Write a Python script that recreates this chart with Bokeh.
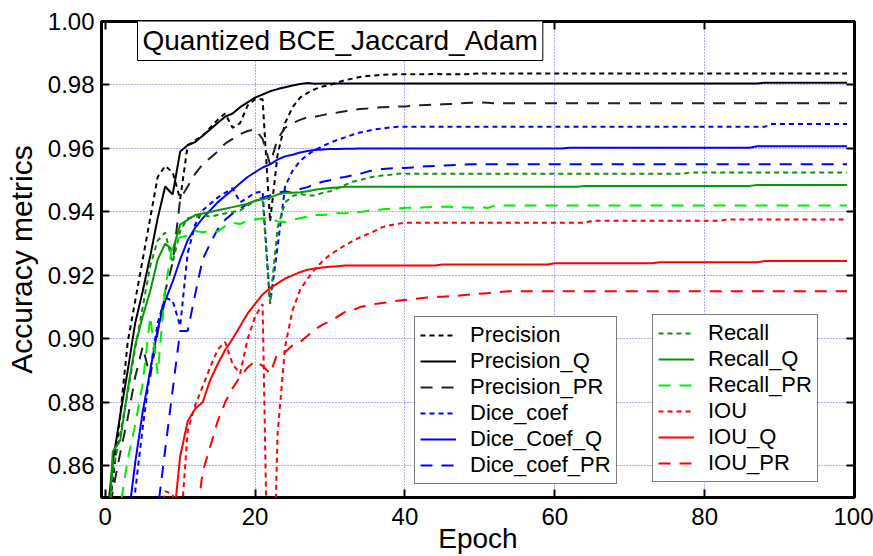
from bokeh.plotting import figure
from bokeh.models import (Range1d, FixedTicker, Legend, LegendItem, Label,
                          LinearAxis, NumeralTickFormatter)
from bokeh.embed import file_html
from bokeh.resources import INLINE

nan = float("nan")

epochs = list(range(100))

x_ticks = [0, 20, 40, 60, 80, 100]
y_ticks = [0.86, 0.88, 0.90, 0.92, 0.94, 0.96, 0.98, 1.00]

title_text = "Quantized BCE_Jaccard_Adam"
x_label = "Epoch"
y_label = "Accuracy metrics"

precision = [
    0.838, 0.855, 0.876, 0.899, 0.912, 0.925, 0.938, 0.951, 0.9545, 0.9525,
    0.944, 0.961, 0.9625, 0.964, 0.9665, 0.969, 0.971, 0.9665, 0.968, 0.9735,
    0.9755, 0.9755, 0.937, 0.958, 0.968, 0.973, 0.976, 0.9775, 0.9787, 0.9795,
    0.980, 0.9808, 0.9815, 0.982, 0.9825, 0.9828, 0.983, 0.9832, 0.9833, 0.9834,
    0.9834, 0.9834, 0.9834, 0.9834, 0.9835, 0.9834, 0.9834, 0.9834, 0.9834, 0.9835,
    0.9836, 0.9836, 0.9836, 0.9836, 0.9836, 0.9836, 0.9836, 0.9836, 0.9836, 0.9836,
    0.9836, 0.9836, 0.9836, 0.9836, 0.9836, 0.9836, 0.9836, 0.9836, 0.9836, 0.9836,
    0.9836, 0.9836, 0.9836, 0.9836, 0.9836, 0.9836, 0.9836, 0.9836, 0.9836, 0.9836,
    0.9836, 0.9836, 0.9836, 0.9836, 0.9836, 0.9836, 0.9836, 0.9836, 0.9836, 0.9836,
    0.9836, 0.9836, 0.9836, 0.9836, 0.9836, 0.9836, 0.9836, 0.9836, 0.9836, 0.9836,
]

precision_q = [
    0.838, 0.861, 0.876, 0.890, 0.905, 0.915, 0.926, 0.938, 0.948, 0.9455,
    0.959, 0.961, 0.962, 0.964, 0.966, 0.968, 0.970, 0.971, 0.973, 0.9745,
    0.976, 0.977, 0.978, 0.9787, 0.9793, 0.9798, 0.9803, 0.9806, 0.9804, 0.9805,
    0.9805, 0.9805, 0.9805, 0.9805, 0.9805, 0.9805, 0.9805, 0.9805, 0.9805, 0.9805,
    0.9805, 0.9805, 0.9805, 0.9805, 0.9805, 0.9805, 0.9805, 0.9805, 0.9805, 0.9805,
    0.9805, 0.9805, 0.9805, 0.9805, 0.9805, 0.9805, 0.9805, 0.9805, 0.9805, 0.9805,
    0.9805, 0.9805, 0.9805, 0.9805, 0.9805, 0.9805, 0.9805, 0.9805, 0.9805, 0.9805,
    0.9805, 0.9805, 0.9805, 0.9805, 0.9805, 0.9805, 0.9805, 0.9805, 0.9805, 0.9805,
    0.9805, 0.9805, 0.9805, 0.9805, 0.9805, 0.9805, 0.9805, 0.9805, 0.9807, 0.9807,
    0.9807, 0.9807, 0.9807, 0.9807, 0.9807, 0.9807, 0.9807, 0.9807, 0.9807, 0.9807,
]

precision_pr = [
    0.835, 0.852, 0.864, 0.875, 0.888, 0.8975, 0.888, 0.902, 0.915, 0.924,
    0.944, 0.948, 0.952, 0.955, 0.957, 0.959, 0.9615, 0.963, 0.9645, 0.9655,
    0.966, 0.963, 0.955, 0.963, 0.9665, 0.968, 0.969, 0.9698, 0.970, 0.9705,
    0.971, 0.9713, 0.9717, 0.9722, 0.9724, 0.9726, 0.9729, 0.973, 0.9731, 0.9732,
    0.9732, 0.9734, 0.9736, 0.9737, 0.9738, 0.9739, 0.974, 0.9741, 0.9743, 0.9744,
    0.9745, 0.9744, 0.9742, 0.9742, 0.9742, 0.9742, 0.9742, 0.9742, 0.9742, 0.9742,
    0.9742, 0.9742, 0.9742, 0.9742, 0.9742, 0.9742, 0.9742, 0.9742, 0.9742, 0.9742,
    0.9742, 0.9742, 0.9742, 0.9742, 0.9742, 0.9742, 0.9742, 0.9742, 0.9742, 0.9742,
    0.9742, 0.9742, 0.9742, 0.9742, 0.9742, 0.9742, 0.9742, 0.9742, 0.9742, 0.9742,
    0.9742, 0.9742, 0.9742, 0.9742, 0.9742, 0.9742, 0.9742, 0.9742, 0.9742, 0.9742,
]

dice_coef = [
    nan, nan, 0.815, 0.835, 0.852, 0.872, 0.890, 0.905, 0.913, 0.912,
    0.904, 0.927, 0.936, 0.9405, 0.9425, 0.9445, 0.946, 0.9475, 0.943, 0.9445,
    0.946, 0.9465, 0.911, 0.929, 0.948, 0.953, 0.956, 0.958, 0.9595, 0.9607,
    0.9618, 0.9627, 0.9635, 0.9643, 0.965, 0.9655, 0.966, 0.9663, 0.9666, 0.9668,
    0.9668, 0.9668, 0.9668, 0.9668, 0.9668, 0.9668, 0.9668, 0.9668, 0.9668, 0.9668,
    0.9668, 0.9668, 0.9668, 0.9668, 0.9668, 0.9668, 0.9668, 0.9668, 0.9668, 0.9668,
    0.9668, 0.9668, 0.9668, 0.9668, 0.9668, 0.9668, 0.9668, 0.9668, 0.9668, 0.9668,
    0.9668, 0.9668, 0.9668, 0.9668, 0.9668, 0.9668, 0.9668, 0.9668, 0.9668, 0.9668,
    0.9668, 0.9668, 0.9668, 0.9668, 0.9668, 0.9668, 0.9668, 0.9668, 0.9668, 0.9677,
    0.9677, 0.9677, 0.9677, 0.9677, 0.9677, 0.9677, 0.9677, 0.9677, 0.9677, 0.9677,
]

dice_coef_q = [
    nan, nan, 0.822, 0.842, 0.861, 0.877, 0.890, 0.903, 0.912, 0.918,
    0.925, 0.931, 0.935, 0.938, 0.9405, 0.943, 0.945, 0.947, 0.949, 0.951,
    0.9525, 0.954, 0.955, 0.9565, 0.9575, 0.958, 0.9587, 0.9592, 0.9595, 0.9597,
    0.9598, 0.9598, 0.9599, 0.9599, 0.9600, 0.9600, 0.9600, 0.9600, 0.9600, 0.9600,
    0.9600, 0.9600, 0.9600, 0.9600, 0.9600, 0.9600, 0.9600, 0.9600, 0.9600, 0.9600,
    0.9600, 0.9600, 0.9600, 0.9600, 0.9600, 0.9600, 0.9600, 0.9600, 0.9600, 0.9600,
    0.9600, 0.9600, 0.9602, 0.9602, 0.9602, 0.9602, 0.9602, 0.9602, 0.9602, 0.9602,
    0.9602, 0.9602, 0.9602, 0.9602, 0.9602, 0.9602, 0.9602, 0.9602, 0.9602, 0.9602,
    0.9602, 0.9602, 0.9602, 0.9602, 0.9602, 0.9602, 0.9602, 0.9607, 0.9607, 0.9607,
    0.9607, 0.9607, 0.9607, 0.9607, 0.9607, 0.9607, 0.9607, 0.9607, 0.9607, 0.9607,
]

dice_coef_pr = [
    nan, nan, nan, nan, nan, nan, 0.830, 0.846, 0.865, 0.884,
    0.9025, 0.9025, 0.914, 0.925, 0.930, 0.9345, 0.9375, 0.9395, 0.941, 0.9425,
    0.9435, 0.9445, 0.9452, 0.946, 0.9465, 0.946, 0.9472, 0.9478, 0.9488, 0.9495,
    0.950, 0.9507, 0.951, 0.9515, 0.952, 0.9527, 0.9532, 0.9535, 0.9537, 0.9538,
    0.9538, 0.954, 0.9542, 0.9544, 0.9545, 0.9546, 0.9547, 0.9548, 0.9549, 0.955,
    0.955, 0.955, 0.955, 0.955, 0.955, 0.955, 0.955, 0.955, 0.955, 0.955,
    0.955, 0.955, 0.955, 0.955, 0.955, 0.955, 0.955, 0.955, 0.955, 0.955,
    0.955, 0.955, 0.955, 0.955, 0.955, 0.955, 0.955, 0.955, 0.955, 0.955,
    0.955, 0.955, 0.955, 0.955, 0.955, 0.955, 0.955, 0.955, 0.955, 0.955,
    0.955, 0.955, 0.955, 0.955, 0.955, 0.955, 0.955, 0.955, 0.955, 0.955,
]

recall = [
    0.830, 0.858, 0.870, 0.883, 0.897, 0.910, 0.923, 0.931, 0.9335, 0.924,
    0.934, 0.938, 0.9385, 0.939, 0.9385, 0.939, 0.9395, 0.940, 0.9405, 0.942,
    0.9435, 0.944, 0.911, 0.935, 0.943, 0.945, 0.9457, 0.9452, 0.9452, 0.946,
    0.9465, 0.9474, 0.9485, 0.9495, 0.950, 0.9507, 0.9512, 0.9515, 0.9517, 0.952,
    0.952, 0.952, 0.952, 0.952, 0.952, 0.952, 0.952, 0.952, 0.952, 0.952,
    0.952, 0.952, 0.952, 0.952, 0.952, 0.952, 0.952, 0.952, 0.952, 0.952,
    0.952, 0.952, 0.952, 0.952, 0.952, 0.952, 0.952, 0.952, 0.952, 0.952,
    0.952, 0.952, 0.952, 0.952, 0.952, 0.952, 0.952, 0.952, 0.9524, 0.9524,
    0.9524, 0.9524, 0.9524, 0.9524, 0.9524, 0.9524, 0.9524, 0.9524, 0.9524, 0.9524,
    0.9524, 0.9524, 0.9524, 0.9524, 0.9524, 0.9524, 0.9524, 0.9524, 0.9524, 0.9524,
]

recall_q = [
    0.820, 0.8645, 0.868, 0.884, 0.898, 0.907, 0.915, 0.925, 0.930, 0.928,
    0.936, 0.9375, 0.939, 0.9395, 0.940, 0.9405, 0.941, 0.9415, 0.942, 0.9425,
    0.9435, 0.944, 0.9445, 0.9455, 0.946, 0.946, 0.9462, 0.9465, 0.947, 0.9473,
    0.9475, 0.9477, 0.9479, 0.9479, 0.9479, 0.9479, 0.9479, 0.9479, 0.9479, 0.9479,
    0.9479, 0.9479, 0.9479, 0.9479, 0.9479, 0.9479, 0.9479, 0.9479, 0.9479, 0.9479,
    0.9479, 0.9479, 0.9479, 0.9479, 0.9479, 0.9479, 0.9479, 0.9479, 0.9479, 0.9479,
    0.9479, 0.9479, 0.9479, 0.9479, 0.9482, 0.9482, 0.9482, 0.9482, 0.9482, 0.9482,
    0.9482, 0.9482, 0.9482, 0.9482, 0.9482, 0.9482, 0.9482, 0.9482, 0.9482, 0.9482,
    0.9482, 0.9482, 0.9482, 0.9482, 0.9482, 0.9482, 0.9482, 0.9485, 0.9485, 0.9485,
    0.9485, 0.9485, 0.9485, 0.9485, 0.9485, 0.9485, 0.9485, 0.9485, 0.9485, 0.9485,
]

recall_pr = [
    nan, 0.830, 0.847, 0.862, 0.873, 0.886, 0.907, 0.889, 0.916, 0.930,
    0.932, 0.9325, 0.934, 0.9336, 0.934, 0.9338, 0.9355, 0.9366, 0.9362, 0.9372,
    0.9376, 0.938, 0.938, 0.937, 0.9368, 0.9375, 0.938, 0.9385, 0.939, 0.939,
    0.9393, 0.9396, 0.9396, 0.9398, 0.940, 0.9403, 0.9405, 0.9408, 0.941, 0.941,
    0.9413, 0.9413, 0.9414, 0.9415, 0.9416, 0.9416, 0.9416, 0.9415, 0.9414, 0.9413,
    0.9416, 0.9412, 0.942, 0.942, 0.942, 0.942, 0.942, 0.942, 0.942, 0.942,
    0.942, 0.942, 0.942, 0.942, 0.942, 0.942, 0.942, 0.942, 0.942, 0.942,
    0.942, 0.942, 0.942, 0.942, 0.942, 0.942, 0.942, 0.942, 0.942, 0.942,
    0.942, 0.942, 0.942, 0.942, 0.942, 0.942, 0.942, 0.942, 0.942, 0.942,
    0.942, 0.942, 0.942, 0.942, 0.942, 0.942, 0.942, 0.942, 0.942, 0.942,
]

iou = [
    nan, nan, nan, nan, nan, nan, nan, 0.835, 0.852, 0.851,
    0.838, 0.871, 0.879, 0.885, 0.891, 0.8966, 0.899, 0.892, 0.889, 0.900,
    0.907, 0.911, 0.780, 0.870, 0.8975, 0.909, 0.9154, 0.919, 0.922, 0.9245,
    0.9265, 0.928, 0.9295, 0.9308, 0.932, 0.933, 0.934, 0.9352, 0.9358, 0.9362,
    0.9366, 0.9366, 0.9366, 0.9366, 0.9366, 0.9366, 0.9366, 0.9366, 0.9366, 0.9366,
    0.9366, 0.9366, 0.9366, 0.9366, 0.9366, 0.9366, 0.9366, 0.9366, 0.9366, 0.9366,
    0.9366, 0.9366, 0.9366, 0.9366, 0.9366, 0.9372, 0.9372, 0.9372, 0.9372, 0.9372,
    0.9372, 0.9372, 0.9372, 0.9372, 0.9372, 0.9372, 0.9372, 0.9372, 0.9372, 0.9372,
    0.9372, 0.9372, 0.9372, 0.9376, 0.9376, 0.9376, 0.9376, 0.9376, 0.9376, 0.9376,
    0.9376, 0.9376, 0.9376, 0.9376, 0.9376, 0.9376, 0.9376, 0.9376, 0.9376, 0.9376,
]

iou_q = [
    nan, nan, nan, nan, nan, nan, nan, nan, nan, 0.840,
    0.863, 0.874, 0.878, 0.880, 0.887, 0.892, 0.8965, 0.900, 0.904, 0.908,
    0.911, 0.914, 0.916, 0.9175, 0.919, 0.920, 0.921, 0.9218, 0.9222, 0.9225,
    0.9227, 0.9229, 0.9231, 0.9231, 0.9231, 0.9231, 0.9231, 0.9231, 0.9231, 0.9231,
    0.9231, 0.9231, 0.9231, 0.9231, 0.9231, 0.9234, 0.9234, 0.9234, 0.9234, 0.9234,
    0.9234, 0.9234, 0.9234, 0.9234, 0.9234, 0.9234, 0.9234, 0.9234, 0.9234, 0.9234,
    0.9238, 0.9238, 0.9238, 0.9238, 0.9238, 0.9238, 0.9238, 0.9238, 0.9238, 0.9238,
    0.9238, 0.9238, 0.9238, 0.9238, 0.9241, 0.9241, 0.9241, 0.9241, 0.9241, 0.9241,
    0.9241, 0.9241, 0.9241, 0.9241, 0.9241, 0.9241, 0.9241, 0.9241, 0.9245, 0.9245,
    0.9245, 0.9245, 0.9245, 0.9245, 0.9245, 0.9245, 0.9245, 0.9245, 0.9245, 0.9245,
]

iou_pr = [
    nan, nan, nan, nan, nan, nan, nan, nan, nan, nan,
    nan, 0.820, 0.840, 0.858, 0.866, 0.874, 0.880, 0.8845, 0.888, 0.891,
    0.893, 0.8915, 0.889, 0.8955, 0.8958, 0.898, 0.899, 0.901, 0.903, 0.9045,
    0.9055, 0.907, 0.9085, 0.909, 0.910, 0.9105, 0.911, 0.9113, 0.9116, 0.912,
    0.9122, 0.9125, 0.9128, 0.913, 0.9132, 0.9133, 0.9134, 0.9136, 0.9138, 0.914,
    0.9142, 0.9144, 0.9146, 0.9148, 0.915, 0.915, 0.915, 0.915, 0.915, 0.915,
    0.915, 0.915, 0.915, 0.915, 0.915, 0.915, 0.915, 0.915, 0.915, 0.915,
    0.915, 0.915, 0.915, 0.915, 0.915, 0.915, 0.915, 0.915, 0.915, 0.915,
    0.915, 0.915, 0.915, 0.915, 0.915, 0.915, 0.915, 0.915, 0.915, 0.915,
    0.915, 0.915, 0.915, 0.915, 0.915, 0.915, 0.915, 0.915, 0.915, 0.915,
]

FONT = "Liberation Sans"
DOT = "5 4"
DASH = "12 9"
GREEN = "#0a960a"
LIME = "#00ee00"

p = figure(width=873, height=556, output_backend="svg", toolbar_location=None,
           x_range=Range1d(-0.5, 100), y_range=Range1d(0.85, 1.0),
           min_border_left=101, min_border_right=19, min_border_top=21,
           min_border_bottom=58)
p.background_fill_color = "white"
p.border_fill_color = "white"
p.outline_line_color = "black"
p.outline_line_width = 3

for ax in (p.xaxis[0], p.yaxis[0]):
    ax.axis_line_color = None
    ax.major_tick_in = 8
    ax.major_tick_out = 0
    ax.major_tick_line_width = 2
    ax.minor_tick_line_color = None
    ax.major_label_text_font = FONT
    ax.major_label_text_font_size = "24px"
    ax.major_label_text_color = "black"
    ax.axis_label_text_font = FONT
    ax.axis_label_text_font_style = "normal"
    ax.axis_label_text_color = "black"

p.xaxis[0].ticker = FixedTicker(ticks=x_ticks)
p.yaxis[0].ticker = FixedTicker(ticks=y_ticks)
p.yaxis[0].formatter = NumeralTickFormatter(format="0.00")
p.xaxis[0].axis_label = x_label
p.xaxis[0].axis_label_text_font_size = "28px"
p.xaxis[0].major_label_standoff = 10
p.xaxis[0].axis_label_standoff = -5
p.yaxis[0].axis_label = y_label
p.yaxis[0].axis_label_text_font_size = "30px"
p.yaxis[0].major_label_standoff = 7
p.yaxis[0].axis_label_standoff = 7

for side, ticks in (("above", x_ticks), ("right", y_ticks)):
    ax = LinearAxis(ticker=FixedTicker(ticks=ticks), axis_line_color=None,
                    major_tick_in=8, major_tick_out=0, major_tick_line_width=2,
                    minor_tick_line_color=None,
                    major_label_text_font_size="1px",
                    major_label_text_color=None, major_label_standoff=0)
    p.add_layout(ax, side)

p.xgrid.ticker = FixedTicker(ticks=[20, 40, 60, 80])
p.ygrid.ticker = FixedTicker(ticks=[0.86, 0.88, 0.90, 0.92, 0.94, 0.96, 0.98])
for g in (p.xgrid[0], p.ygrid[0]):
    g.grid_line_color = "#3a3aff"
    g.grid_line_alpha = 0.85
    g.grid_line_dash = "1 2"
    g.grid_line_width = 1

series = [
    ("Precision", precision, "black", DOT),
    ("Precision_Q", precision_q, "black", "solid"),
    ("Precision_PR", precision_pr, "#222222", DASH),
    ("Dice_coef", dice_coef, "#0000ff", DOT),
    ("Dice_Coef_Q", dice_coef_q, "#0000ff", "solid"),
    ("Dice_coef_PR", dice_coef_pr, "#0000ff", DASH),
    ("Recall", recall, GREEN, DOT),
    ("Recall_Q", recall_q, GREEN, "solid"),
    ("Recall_PR", recall_pr, LIME, DASH),
    ("IOU", iou, "#ff0000", DOT),
    ("IOU_Q", iou_q, "#ff0000", "solid"),
    ("IOU_PR", iou_pr, "#ff0000", DASH),
]

renderers = []
for name, vals, col, dash in series:
    r = p.line(epochs, vals, line_color=col, line_width=2, line_dash=dash)
    renderers.append((name, r))


def make_legend(items, loc):
    lg = Legend(items=[LegendItem(label=n, renderers=[r]) for n, r in items],
                location=loc)
    lg.label_text_font = FONT
    lg.label_text_font_size = "22px"
    lg.label_text_color = "black"
    lg.glyph_width = 36
    lg.glyph_height = 20
    lg.label_height = 20
    lg.label_standoff = 14
    lg.spacing = 0
    lg.padding = 5
    lg.margin = 0
    lg.border_line_color = "black"
    lg.border_line_width = 1
    lg.background_fill_color = "white"
    lg.background_fill_alpha = 1.0
    return lg


p.add_layout(make_legend(renderers[:6], (313, 13)))
p.add_layout(make_legend(renderers[6:], (551, 15)))

p.add_layout(Label(x=36, y=478, x_units="screen", y_units="screen",
                   text=title_text, text_font=FONT, text_font_size="28px",
                   text_align="left", text_baseline="top", text_color="black",
                   border_line_color="black", border_line_width=1,
                   background_fill_color="white", padding=5))

open("out.html", "w").write(file_html(p, INLINE))
